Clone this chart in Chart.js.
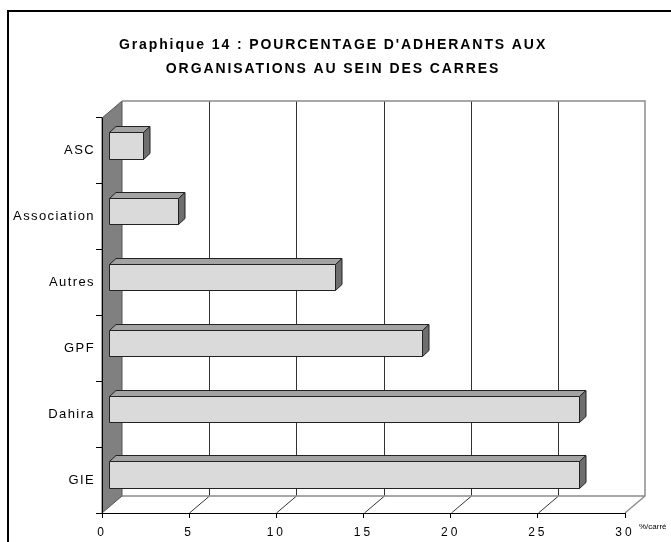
<!DOCTYPE html>
<html>
<head>
<meta charset="utf-8">
<script src="https://cdn.jsdelivr.net/npm/chart.js@4"></script>
<style>
  html, body { margin: 0; padding: 0; background: #fff; }
  #chart { display: block; }
</style>
</head>
<body>
<canvas id="chart" width="671" height="542"></canvas>
<script>
const categories = ['ASC', 'Association', 'Autres', 'GPF', 'Dahira', 'GIE'];
const percentages = [2, 4, 13, 18, 27, 27];
const xTickValues = [0, 5, 10, 15, 20, 25, 30];
const titleLines = ["Graphique 14 : POURCENTAGE D'ADHERANTS AUX", 'ORGANISATIONS AU SEIN DES CARRES'];
const unitLabel = '%/carré';

const FONT = '"Liberation Sans", Arial, sans-serif';
// fake 3d offsets (px)
const WALL = { dx: 20, dy: -17 };
const BAR_SHIFT = { dx: 6, dy: -5.5 };
const BAR_DEPTH = { dx: 6.5, dy: -6 };

// letter spacing for title / tick labels, title centred on the whole frame
const spacingPlugin = {
  id: 'spacing',
  afterLayout(chart) {
    const t = chart.titleBlock;
    t.left = 0;
    t.right = chart.width - 5;
    t.width = t.right - t.left;
  },
  beforeDraw(chart) {
    const wrap = (obj, key, spacing) => {
      if (!obj || obj['_sp_' + key]) return;
      const orig = obj[key];
      obj[key] = function (...args) {
        chart.ctx.save();
        chart.ctx.letterSpacing = spacing;
        orig.apply(this, args);
        chart.ctx.restore();
      };
      obj['_sp_' + key] = true;
    };
    wrap(chart.titleBlock, 'draw', '1.9px');
    wrap(chart.scales.x, 'drawLabels', '3px');
    wrap(chart.scales.y, 'drawLabels', '1.4px');
  }
};

const scenePlugin = {
  id: 'scene',
  beforeDraw(chart) {
    const { ctx, chartArea: a, scales: { x } } = chart;
    const bl = a.left + WALL.dx, br = a.right + WALL.dx;
    const bt = a.top + WALL.dy, bb = a.bottom + WALL.dy;
    ctx.save();

    // frame
    ctx.strokeStyle = '#000';
    ctx.lineWidth = 2;
    ctx.strokeRect(8, 11, 720, 600);

    // left wall
    ctx.fillStyle = '#808080';
    ctx.beginPath();
    ctx.moveTo(a.left, a.top);
    ctx.lineTo(bl, bt);
    ctx.lineTo(bl, bb);
    ctx.lineTo(a.left, a.bottom);
    ctx.closePath();
    ctx.fill();
    ctx.strokeStyle = '#555';
    ctx.lineWidth = 1;
    ctx.stroke();

    // grid on back wall + floor
    ctx.strokeStyle = '#333';
    xTickValues.forEach(v => {
      if (v <= x.min || v >= x.max) return;
      const px = Math.round(x.getPixelForValue(v)) + 0.5;
      ctx.beginPath();
      ctx.moveTo(px + WALL.dx, bt);
      ctx.lineTo(px + WALL.dx, bb);
      ctx.moveTo(px + WALL.dx, bb);
      ctx.lineTo(px, a.bottom);
      ctx.stroke();
    });

    // wall / floor edges
    ctx.strokeStyle = '#8c8c8c';
    ctx.lineWidth = 1.5;
    ctx.beginPath();
    ctx.moveTo(bl, bt);
    ctx.lineTo(br, bt);
    ctx.lineTo(br, bb);
    ctx.lineTo(a.right, a.bottom);
    ctx.moveTo(bl, bb);
    ctx.lineTo(br, bb);
    ctx.stroke();

    // unit label
    ctx.fillStyle = '#000';
    ctx.font = '8px ' + FONT;
    ctx.textBaseline = 'middle';
    ctx.fillText(unitLabel, a.right + 14, a.bottom + 14);
    ctx.restore();
  },
  afterDatasetsDraw(chart) {
    const { ctx } = chart;
    const meta = chart.getDatasetMeta(0);
    ctx.save();
    ctx.strokeStyle = '#222';
    ctx.lineWidth = 1;
    ctx.lineJoin = 'round';
    meta.data.forEach(el => {
      const { x, y, base, height } = el.getProps(['x', 'y', 'base', 'height'], true);
      const l = Math.round(base + BAR_SHIFT.dx) + 0.5;
      const r = Math.round(x + BAR_SHIFT.dx) + 0.5;
      const t = Math.round(y - height / 2 + BAR_SHIFT.dy) + 0.5;
      const b = Math.round(y + height / 2 + BAR_SHIFT.dy) + 0.5;
      const dx = BAR_DEPTH.dx, dy = BAR_DEPTH.dy;
      // top
      ctx.fillStyle = '#a3a3a3';
      ctx.beginPath();
      ctx.moveTo(l, t); ctx.lineTo(l + dx, t + dy); ctx.lineTo(r + dx, t + dy); ctx.lineTo(r, t);
      ctx.closePath(); ctx.fill(); ctx.stroke();
      // side
      ctx.fillStyle = '#6e6e6e';
      ctx.beginPath();
      ctx.moveTo(r, t); ctx.lineTo(r + dx, t + dy); ctx.lineTo(r + dx, b + dy); ctx.lineTo(r, b);
      ctx.closePath(); ctx.fill(); ctx.stroke();
      // front
      ctx.fillStyle = '#dadada';
      ctx.fillRect(l, t, r - l, b - t);
      ctx.strokeRect(l, t, r - l, b - t);
    });
    ctx.restore();
  }
};

new Chart(document.getElementById('chart'), {
  type: 'bar',
  data: {
    labels: categories,
    datasets: [{
      data: percentages,
      backgroundColor: 'rgba(0,0,0,0)',
      borderWidth: 0,
      categoryPercentage: 1,
      barPercentage: 0.4,
    }],
  },
  options: {
    indexAxis: 'y',
    responsive: false,
    animation: false,
    layout: { padding: { left: 0, right: 46, top: 0, bottom: 0 } },
    plugins: {
      legend: { display: false },
      tooltip: { enabled: false },
      title: {
        display: true,
        text: titleLines,
        color: '#000',
        font: { family: FONT, size: 14, weight: 'bold', lineHeight: 24 / 14 },
        padding: { top: 33, bottom: 37 },
      },
    },
    scales: {
      x: {
        min: 0,
        max: 30,
        ticks: { stepSize: 5, color: '#000', padding: 7, font: { family: FONT, size: 12 } },
        grid: { drawOnChartArea: false, tickLength: 5, color: '#000' },
        border: { color: '#000' },
        afterFit: s => { s.height = 29; },
      },
      y: {
        ticks: { color: '#000', padding: 1, font: { family: FONT, size: 13 } },
        grid: { drawOnChartArea: false, tickLength: 6, color: '#000' },
        border: { color: '#000' },
        afterFit: s => { s.width = 102; },
      },
    },
  },
  plugins: [spacingPlugin, scenePlugin],
});
</script>
</body>
</html>
